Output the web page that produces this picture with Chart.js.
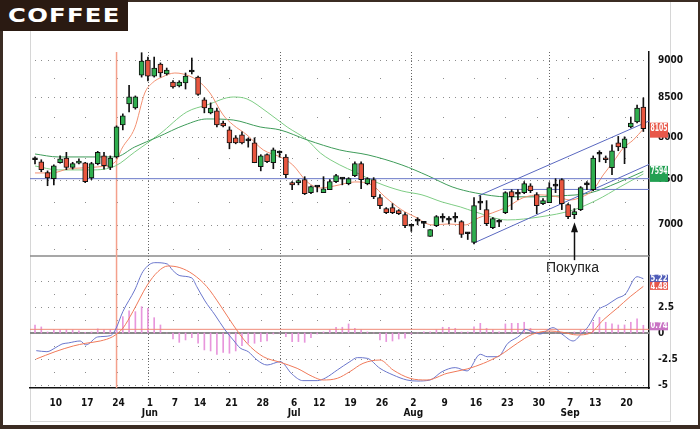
<!DOCTYPE html>
<html lang="ru">
<head>
    <meta charset="UTF-8">
    <title>COFFEE</title>
    <script src="https://cdn.jsdelivr.net/npm/chart.js"></script>
    <style>
        body { margin: 0; background: #fff; }
        #wrap { position: relative; width: 700px; height: 429px; overflow: hidden; background: #fff; }
        .edge { position: absolute; background: #3b2c23; }
        .inner { position: absolute; background: #d6d6d6; }
        #title {
            position: absolute; left: 0; top: 0; width: 128px; height: 31px;
            background: #2a1a12; color: #fff;
            font: bold 19px 'DejaVu Sans', sans-serif; letter-spacing: 1px;
            line-height: 30px;
        }
        #title span { display: inline-block; margin-left: 8px; transform: scaleX(1.28); transform-origin: left center; }
        #buy { position: absolute; left: 546px; top: 259px; font: 14px 'Liberation Sans', Arial, sans-serif; color: #222; }
        canvas { position: absolute; left: 0; top: 0; }
    </style>
</head>
<body>
<div id="wrap">
    <div class="inner" style="left:30px; top:31px; width:1px; height:391px;"></div>
    <div class="inner" style="left:30px; top:421px; width:641px; height:1px;"></div>
    <div class="inner" style="left:670px; top:2px; width:1px; height:420px;"></div>
    <canvas id="coffeeChart" width="700" height="429"></canvas>
    <div class="edge" style="left:0; top:0; width:700px; height:2px;"></div>
    <div class="edge" style="left:0; top:0; width:3px; height:429px;"></div>
    <div class="edge" style="left:0; top:425px; width:700px; height:4px;"></div>
    <div class="edge" style="left:698px; top:0; width:2px; height:429px;"></div>
    <div id="title"><span>COFFEE</span></div>
    <div id="buy">Покупка</div>
</div>

<script>
    // trading days on the chart
    const dates = [
        'May 5','May 6','May 7','May 10','May 11','May 12','May 13','May 14','May 17','May 18','May 19','May 20','May 21','May 24','May 25','May 26','May 27','May 28',
        'Jun 1','Jun 2','Jun 3','Jun 4','Jun 7','Jun 8','Jun 9','Jun 10','Jun 14','Jun 15','Jun 16','Jun 17','Jun 18','Jun 21','Jun 22','Jun 23','Jun 24','Jun 25','Jun 28','Jun 29','Jun 30',
        'Jul 1','Jul 2','Jul 6','Jul 7','Jul 8','Jul 9','Jul 12','Jul 13','Jul 14','Jul 15','Jul 16','Jul 19','Jul 20','Jul 21','Jul 22','Jul 23','Jul 26','Jul 27','Jul 28','Jul 29','Jul 30',
        'Aug 2','Aug 3','Aug 4','Aug 5','Aug 6','Aug 9','Aug 10','Aug 11','Aug 12','Aug 13','Aug 16','Aug 17','Aug 18','Aug 19','Aug 20','Aug 23','Aug 24','Aug 25','Aug 26','Aug 27','Aug 30','Aug 31',
        'Sep 1','Sep 2','Sep 3','Sep 7','Sep 8','Sep 9','Sep 10','Sep 13','Sep 14','Sep 15','Sep 16','Sep 17','Sep 20','Sep 21','Sep 22','Sep 23'
    ];
    const weekStarts = ['May 10','May 17','May 24','Jun 1','Jun 7','Jun 14','Jun 21','Jun 28','Jul 6','Jul 12','Jul 19','Jul 26',
        'Aug 2','Aug 9','Aug 16','Aug 23','Aug 30','Sep 7','Sep 13','Sep 20'];

    const opens = [7730,7706,7580,7510,7695,7750,7640,7690,7694,7520, 7684,7775,7640,7762,8150,8416,8364,8795,9000,8782,
        8945,8809,8703,8650,8690,8837,8768,8469,8303,8328, 8175,8091,7993,8030,7955,7932,7650,7790,7695,7810,
        7762,7465,7465,7499,7352,7415,7352,7385,7477,7505, 7453,7545,7684,7453,7499,7296,7175,7186,7153,7110,
        6985,7040,7015,6878,6992,7070,7050,7070,7034,6905, 6815,7235,7164,6970,7027,7131,7363,7335,7352,7430,
        7330,7230,7241,7425,7499,7219,7110,7164,7440,7385, 7795,7750,7637,7932,7872,8128,8190,8377];
    const highs = [7765,7730,7600,7670,7775,7818,7700,7740,7700,7700, 7830,7818,7775,8140,8290,8660,8520,9100,9040,9040,
        8960,8890,8720,8720,8823,9027,8782,8495,8430,8364, 8200,8128,8020,8067,7990,7993,7790,7800,7870,7835,
        7790,7477,7500,7533,7430,7430,7533,7500,7560,7522, 7522,7706,7706,7522,7522,7330,7186,7230,7164,7131,
        7000,7077,7034,6950,7100,7120,7088,7131,7045,6920, 7296,7318,7263,7077,7056,7363,7385,7385,7477,7453,
        7352,7285,7465,7510,7510,7230,7175,7420,7477,7775, 7837,7775,7908,8010,8005,8250,8403,8495];
    const lows = [7680,7590,7430,7440,7690,7614,7620,7680,7465,7500, 7670,7620,7614,7750,8090,8316,8350,8768,8716,8768,
        8768,8795,8620,8637,8610,8810,8527,8303,8290,8128, 8128,7860,7920,7920,7880,7695,7600,7695,7625,7760,
        7522,7385,7440,7330,7340,7360,7352,7385,7465,7440, 7440,7533,7396,7440,7285,7175,7120,7120,7110,6970,
        6930,7000,6970,6878,6980,7030,7010,7030,6866,6845, 6800,7164,6992,6960,6980,7120,7164,7274,7340,7352,
        7120,7219,7241,7352,7164,7066,7066,7153,7385,7374, 7706,7695,7557,7837,7684,8115,8175,8070];
    const closes = [7730,7614,7520,7660,7740,7640,7684,7706,7477,7684, 7818,7660,7750,8128,8265,8507,8507,8986,8782,8891,
        8823,8864,8637,8703,8782,8837,8540,8364,8364,8150, 8140,7932,7932,7932,7955,7695,7775,7706,7849,7810,
        7557,7440,7489,7340,7420,7415,7396,7477,7545,7505, 7510,7684,7499,7510,7307,7208,7131,7131,7120,6992,
        6985,7040,7015,6950,7088,7070,7050,7070,6898,6905, 7208,7235,7013,7066,7027,7352,7307,7335,7453,7373,
        7208,7263,7408,7425,7230,7088,7142,7408,7440,7750, 7795,7730,7837,7884,7981,8175,8364,8105];

    // moving averages, [day index, price]
    const fastMa = [[0,7576],[2.7,7576],[5.3,7623],[7.5,7634],[10,7646],[12.8,7704],[13.9,7870],[15.9,8114],[17.5,8558],
        [18.7,8690],[20.3,8770],[22.3,8823],[23.6,8810],[25.8,8730],[27.9,8558],[30,8276],[31.6,8151],[33.8,8028],
        [36.4,7846],[39.1,7763],[41.1,7669],[43.4,7473],[45.5,7405],[47.8,7428],[51,7473],[53.7,7439],[55.8,7305],
        [58.5,7160],[60.6,7085],[63.3,6999],[65.9,7009],[68.6,6999],[70.7,7074],[72.9,7128],[75.3,7194],[77.8,7294],
        [80.5,7327],[83.3,7305],[85.3,7270],[87.2,7305],[89,7382],[90.6,7553],[92.2,7704],[93.8,7870],[95.4,7967],[97,8101]];
    const midMa = [[0,7657],[3.7,7611],[9.1,7611],[12.8,7657],[15.9,7822],[19.9,8040],[24.2,8314],[27.4,8403],[31.6,8506],
        [33.8,8481],[37,8314],[40.2,8126],[43.4,7967],[45.5,7810],[48.6,7669],[51,7588],[54.7,7461],[58.5,7371],
        [61.7,7327],[64.9,7248],[67.8,7194],[70.2,7139],[75.3,7052],[80.5,7085],[85.8,7160],[89.6,7270],[93.3,7417],[97,7565]];
    const slowMa = [[0,7798],[3.7,7763],[9.1,7763],[12.8,7763],[15.9,7882],[19.6,8003],[23.9,8151],[27.4,8226],[31.6,8213],
        [35.9,8126],[39.1,8089],[43.4,7967],[48.6,7846],[53.1,7787],[58.5,7669],[62.7,7542],[66.5,7417],[70.2,7349],
        [75.3,7305],[79.4,7305],[83.7,7316],[88.5,7349],[92.8,7461],[97,7594]];

    // trend channel and levels
    const channelUpper = [[70.7,7316],[97.9,8200]];
    const channelLower = [[69.9,6806],[97.9,7675]];
    const levelLong = [[-0.8,7510],[97.9,7510]];
    const levelShort = [[74.6,7388],[97.9,7388]];

    // lower panel
    const macdLine = [[0.2,-1.70],[1.9,-1.80],[3.2,-1.44],[4.3,-1.06],[5.3,-0.96],[7.2,-0.77],[8.1,-1.15],[10,-0.38],[12,-0.26],
        [12.8,0.29],[14,2.05],[15.9,4.13],[17.2,5.9],[19.1,6.76],[21.1,6.63],[21.9,6.06],[23.1,5.51],[25,5.29],[25.8,4.45],
        [27.1,3.08],[28.7,1.73],[30.3,0.29],[31.6,-0.67],[32.7,-1.44],[34,-1.8],[35.4,-2.6],[37,-3.08],[39.1,-2.76],
        [41,-3.97],[42.7,-4.58],[45,-4.58],[46.3,-4.33],[48.2,-3.56],[50.2,-2.76],[51.4,-2.37],[53,-2.44],[55,-3.4],
        [57.1,-4.04],[59.3,-4.52],[60.9,-4.62],[63,-4.52],[64.9,-3.72],[67,-3.33],[68.9,-3.65],[71,-2.05],[72.1,-2.28],
        [73.8,-2.28],[75.4,-0.99],[77.4,-0.19],[78.1,0.35],[79.3,0.13],[80.5,-0.1],[82.6,0.51],[84.2,-0.19],[85.8,-0.77],
        [87.2,-0.03],[88.2,0.61],[89.8,2.21],[91.2,2.69],[92.8,3.33],[94.1,3.72],[96,5.41],[97,5.22]];
    const signalLine = [[0.2,-2.5],[3.2,-1.8],[6.1,-1.25],[8.1,-0.99],[10.4,-0.77],[12.4,-0.35],[14,0.45],[15.6,2.05],[17.9,4.6],
        [19.6,5.9],[21.2,6.44],[23.1,6.28],[25.2,5.64],[27.4,4.45],[29.5,2.69],[31.6,0.77],[33.8,-0.99],[36.4,-2.28],
        [39.1,-2.82],[41.8,-3.4],[44.3,-4.2],[45.9,-4.52],[48.2,-4.36],[50.2,-3.72],[52.3,-2.92],[55,-2.6],[57.1,-3.56],
        [59.8,-4.36],[62.5,-4.52],[65.7,-3.88],[68.9,-3.46],[71.5,-2.92],[74.2,-2.12],[76.9,-0.99],[79.3,-0.13],
        [82.1,0.19],[84.2,0.06],[86.4,-0.19],[88.5,-0.03],[90.6,1.25],[92.8,2.37],[94.9,3.49],[97,4.48]];
    const histogram = [0.77,0.58,0.1,0.3,0.3,0.3,0.3,0.2,0.05,0.1, 0.4,0.3,0.3,0.7,1.57,2.12,2.05,2.53,2.37,1.47,
        0.77,0,-0.58,-0.9,-0.67,-0.45,-0.99,-1.63,-1.73,-2.05, -1.86,-1.95,-1.73,-1.22,-0.99,-0.99,-0.83,-0.77,-0.1,0,
        -0.35,-0.83,-0.83,-0.9,-0.45,-0.1,0.1,0.3,0.55,0.55, 0.87,0.45,0.3,0.1,0,-0.67,-0.83,-0.77,-0.58,-0.51,
        -0.1,0,0.1,0.1,0.3,0.55,0.55,0.45,0.1,0.1, 0.6,0.93,0.45,0.3,0.1,0.87,0.93,0.93,1.03,0.45,
        0.1,0,0,0,0,0,0.1,0.3,0.2,1.03, 1.51,1.03,0.87,0.77,0.77,1.03,1.35,0.74];
    const histLevel = 0.35;

    const priceTicks = [7000, 7500, 8000, 8500, 9000];
    const priceMinor = [6750, 7250, 7750, 8250, 8750];
    const macdTicks = [-5, -2.5, 0, 2.5, 5];
    const macdMinor = [-3.75, -1.25, 1.25, 3.75];

    const month = d => d.split(' ')[0];
    const weekIdx = weekStarts.map(d => dates.indexOf(d));
    const monthIdx = dates.map((d, i) => (i > 0 && month(d) !== month(dates[i - 1]) ? i : -1)).filter(i => i >= 0);
    const markerIdx = dates.indexOf('May 24');
    const buyIdx = dates.indexOf('Sep 8');
    const last = dates.length - 1;

    const axisFont = "'Liberation Sans Narrow', 'DejaVu Sans Condensed', 'Liberation Sans', sans-serif";
    const pts = arr => arr.map(([x, y]) => ({ x, y }));
    const bodyColors = dates.map((d, i) =>
        closes[i] > opens[i] ? '#2fae4e' : (closes[i] < opens[i] ? '#e8563f' : '#111'));

    // dotted grid, month separators and panel lines
    const panelGrid = {
        id: 'panelGrid',
        beforeDatasetsDraw(chart) {
            const { ctx, chartArea: a, scales: { x, y, y2 } } = chart;
            ctx.save();
            ctx.fillStyle = '#8c8c8c';
            const dot = (px, py) => ctx.fillRect(Math.round(px), Math.round(py), 1, 1);
            const rows = (scale, major, minor) => {
                major.forEach(v => { const py = scale.getPixelForValue(v); dates.forEach((d, i) => dot(x.getPixelForValue(i), py)); });
                minor.forEach(v => { const py = scale.getPixelForValue(v); weekIdx.forEach(i => dot(x.getPixelForValue(i), py)); });
            };
            rows(y, priceTicks, priceMinor);
            rows(y2, macdTicks.filter(v => v !== 0), macdMinor);

            ctx.strokeStyle = '#666';
            ctx.lineWidth = 1;
            ctx.setLineDash([1, 2]);
            monthIdx.forEach(i => {
                const px = Math.round(x.getPixelForValue(i)) + 0.5;
                ctx.beginPath(); ctx.moveTo(px, a.top); ctx.lineTo(px, a.bottom); ctx.stroke();
            });
            ctx.setLineDash([]);

            // panel separator and zero line
            ctx.strokeStyle = '#8a8a8a';
            ctx.lineWidth = 1.5;
            ctx.beginPath(); ctx.moveTo(a.left, y.bottom); ctx.lineTo(a.right, y.bottom); ctx.stroke();
            ctx.lineWidth = 2;
            const z = y2.getPixelForValue(0);
            ctx.beginPath(); ctx.moveTo(a.left, z); ctx.lineTo(a.right, z); ctx.stroke();

            ctx.strokeStyle = '#f4a08c';
            ctx.lineWidth = 1.5;
            const mx = x.getPixelForValue(markerIdx);
            ctx.beginPath(); ctx.moveTo(mx, a.top); ctx.lineTo(mx, a.bottom); ctx.stroke();
            ctx.restore();
        }
    };

    // last-value boxes on the right axis and the buy arrow
    const overlay = {
        id: 'overlay',
        afterDraw(chart) {
            const { ctx, chartArea: a, scales: { x, y, y2 } } = chart;
            const box = (py, up, down, text, color, size) => {
                ctx.fillStyle = color;
                ctx.fillRect(a.right + 1, py - up, 18, up + down);
                ctx.fillStyle = '#fff';
                ctx.font = 'bold ' + size + 'px ' + axisFont;
                ctx.textAlign = 'left';
                ctx.textBaseline = 'middle';
                ctx.fillText(text, a.right + 1.5, py, 17);
            };
            ctx.save();
            const lastClose = closes[last];
            box(y.getPixelForValue(lastClose), 6, 9, String(lastClose), lastClose < opens[last] ? '#e8584a' : '#2aa050', 10);
            const lastSlow = slowMa[slowMa.length - 1][1];
            box(y.getPixelForValue(lastSlow), 5.5, 10.5, String(lastSlow), '#22a052', 10);
            const m = macdLine[macdLine.length - 1][1];
            const s = signalLine[signalLine.length - 1][1];
            const h = histogram[last];
            box(y2.getPixelForValue(m), 4, 4, m.toFixed(2), '#4f5cb8', 9);
            box(y2.getPixelForValue(s), 4.5, 3.5, s.toFixed(2), '#e8584a', 9);
            box(y2.getPixelForValue(h), 3, 5, h.toFixed(2), '#c973c4', 9);

            const ax = Math.round(x.getPixelForValue(buyIdx)) + 0.5;
            const tip = y.getPixelForValue(lows[buyIdx]) + 3.5;
            ctx.strokeStyle = '#111';
            ctx.fillStyle = '#111';
            ctx.lineWidth = 1.5;
            ctx.beginPath(); ctx.moveTo(ax, tip + 8); ctx.lineTo(ax, tip + 38); ctx.stroke();
            ctx.beginPath(); ctx.moveTo(ax, tip); ctx.lineTo(ax - 3.5, tip + 10); ctx.lineTo(ax + 3.5, tip + 10); ctx.closePath(); ctx.fill();
            ctx.restore();
        }
    };

    const line = (data, color, axis, order) => ({
        type: 'line', data: pts(data), yAxisID: axis, borderColor: color, borderWidth: 1,
        pointRadius: 0, cubicInterpolationMode: 'monotone', order: order
    });

    const ctx = document.getElementById('coffeeChart').getContext('2d');
    new Chart(ctx, {
        data: {
            datasets: [
                line(slowMa, '#3f9c5a', 'y', 7),
                line(midMa, '#7fcd85', 'y', 7),
                line(fastMa, '#f39172', 'y', 6),
                line(channelUpper, '#5a68c0', 'y', 5),
                line(channelLower, '#5a68c0', 'y', 5),
                line(levelLong, '#6a78c8', 'y', 5),
                line(levelShort, '#6a78c8', 'y', 5),
                {
                    type: 'bar', data: dates.map((d, i) => ({ x: i, y: [lows[i], highs[i]] })), yAxisID: 'y',
                    backgroundColor: '#111', barThickness: 1, grouped: false, order: 2
                },
                {
                    type: 'bar', data: dates.map((d, i) => ({ x: i, y: [opens[i], closes[i]] })), yAxisID: 'y',
                    backgroundColor: bodyColors, borderColor: '#111', borderWidth: 1, borderSkipped: false,
                    barThickness: 5, minBarLength: 2, grouped: false, order: 1
                },
                {
                    type: 'bar', data: histogram.map((v, i) => ({ x: i, y: v })), yAxisID: 'y2',
                    backgroundColor: '#e896dc', barThickness: 1, grouped: false, order: 4
                },
                line([[-0.8, histLevel], [97.9, histLevel]], '#f08a78', 'y2', 3),
                line(signalLine, '#f07a5a', 'y2', 2),
                line(macdLine, '#6a76cc', 'y2', 2)
            ]
        },
        options: {
            responsive: false,
            animation: false,
            layout: { padding: { left: 30, top: 52, right: 11, bottom: 11 } },
            plugins: { legend: { display: false }, tooltip: { enabled: false } },
            scales: {
                x: {
                    type: 'linear', min: -0.8, max: 97.9, bounds: 'data', offset: false,
                    grid: { display: false, offset: false },
                    border: { color: '#111', width: 1.5 },
                    afterBuildTicks: s => { s.ticks = weekIdx.map(v => ({ value: v })); },
                    afterFit: s => { s.height = 30; },
                    ticks: {
                        autoSkip: false, maxRotation: 0, padding: 2, labelOffset: 2, color: '#111',
                        font: { family: axisFont, size: 10, weight: 'bold', lineHeight: 1 },
                        callback: (v, i) => {
                            const d = dates[v];
                            const prev = i > 0 ? dates[weekIdx[i - 1]] : d;
                            return month(d) !== month(prev) ? [d.split(' ')[1], month(d)] : d.split(' ')[1];
                        }
                    }
                },
                y: {
                    type: 'logarithmic', position: 'right', stack: 'panels', stackWeight: 204,
                    min: 6675, max: 9110, bounds: 'data',
                    grid: { display: false },
                    border: { color: '#111', width: 1.5 },
                    afterBuildTicks: s => { s.ticks = priceTicks.map(v => ({ value: v })); },
                    afterFit: s => { s.width = 40; },
                    ticks: { autoSkip: false, padding: 1, color: '#111', font: { family: axisFont, size: 10, weight: 'bold' }, callback: v => String(v) }
                },
                y2: {
                    type: 'linear', position: 'right', stack: 'panels', stackWeight: 132,
                    min: -5.29, max: 7.4, bounds: 'data',
                    grid: { display: false },
                    border: { color: '#111', width: 1.5 },
                    afterBuildTicks: s => { s.ticks = macdTicks.map(v => ({ value: v })); },
                    afterFit: s => { s.width = 40; },
                    ticks: { autoSkip: false, padding: 1, color: '#111', font: { family: axisFont, size: 10, weight: 'bold' }, callback: v => String(v) }
                }
            }
        },
        plugins: [panelGrid, overlay]
    });
</script>
</body>
</html>
